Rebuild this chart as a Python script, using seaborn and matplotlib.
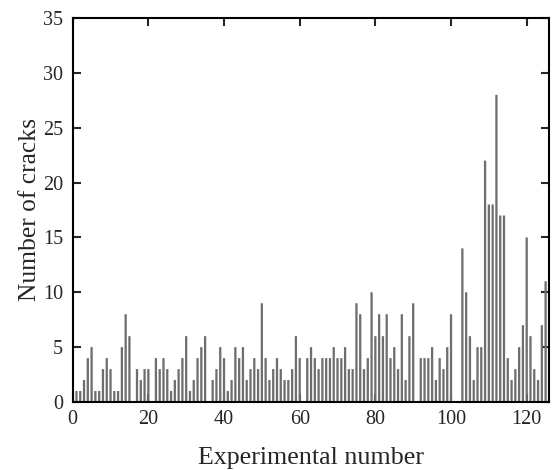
import matplotlib
matplotlib.use("Agg")
import matplotlib.pyplot as plt
import seaborn as sns
import pandas as pd
import numpy as np

experiments = list(range(1, 126))
cracks = [1, 1, 2, 4, 5, 1, 1, 3, 4, 3,
          1, 1, 5, 8, 6, 0, 3, 2, 3, 3,
          0, 4, 3, 4, 3, 1, 2, 3, 4, 6,
          1, 2, 4, 5, 6, 0, 2, 3, 5, 4,
          1, 2, 5, 4, 5, 2, 3, 4, 3, 9,
          4, 2, 3, 4, 3, 2, 2, 3, 6, 4,
          0, 4, 5, 4, 3, 4, 4, 4, 5, 4,
          4, 5, 3, 3, 9, 8, 3, 4, 10, 6,
          8, 6, 8, 4, 5, 3, 8, 2, 6, 9,
          0, 4, 4, 4, 5, 2, 4, 3, 5, 8,
          0, 0, 14, 10, 6, 2, 5, 5, 22, 18,
          18, 28, 17, 17, 4, 2, 3, 5, 7, 15,
          6, 3, 2, 7, 11]

df = pd.DataFrame({"Experimental number": experiments, "Number of cracks": cracks})

sns.set_style("ticks")
plt.rcParams['font.family'] = ['Liberation Serif', 'DejaVu Serif']

fig = plt.figure(figsize=(5.54, 4.70), dpi=100)
ax = fig.add_axes([0.1312, 0.1447, 0.8598, 0.817])

sns.barplot(data=df, x="Experimental number", y="Number of cracks",
            native_scale=True, width=0.6, color="#6e6e6e", saturation=1,
            linewidth=0, ax=ax)
for p in ax.patches:
    p.set_snap(False)
    if p.get_height() == 0:
        p.set_visible(False)

ax.set_xlim(0, 125.9)
ax.set_ylim(0, 35)
ax.set_xticks(np.arange(0, 121, 20))
ax.set_yticks(np.arange(0, 36, 5))
ax.tick_params(direction="in", length=6, width=1.5, top=True, right=True,
               labelsize=14.5)
ax.tick_params(axis="x", pad=5.5)
ax.tick_params(axis="y", pad=6.8)
for s in ax.spines.values():
    s.set_linewidth(1.5)
    s.set_color("black")
ax.set_xlabel("Experimental number", fontsize=18.7, labelpad=13)
ax.set_ylabel("Number of cracks", fontsize=18.4, labelpad=1.5)

fig.savefig("out.png", dpi=100)
